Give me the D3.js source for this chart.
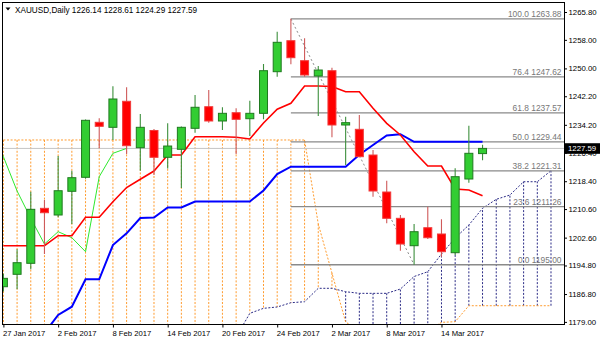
<!DOCTYPE html>
<html><head><meta charset="utf-8">
<script src="https://cdn.jsdelivr.net/npm/d3@7"></script>
<style>
body{margin:0;background:#fff;}
svg{display:block;font-family:"Liberation Sans",Arial,sans-serif;}
</style>
</head><body>
<svg id="chart" width="600" height="343"></svg>
<script>
// ---------- DATA ----------
const dates = ["27 Jan","30 Jan","31 Jan","1 Feb","2 Feb","3 Feb","6 Feb","7 Feb","8 Feb","9 Feb","10 Feb",
  "13 Feb","14 Feb","15 Feb","16 Feb","17 Feb","20 Feb","21 Feb","22 Feb","23 Feb","24 Feb",
  "27 Feb","28 Feb","1 Mar","2 Mar","3 Mar","6 Mar","7 Mar","8 Mar","9 Mar","10 Mar",
  "13 Mar","14 Mar","15 Mar","16 Mar","17 Mar"];
const openP  = [1188.85,1192.33,1195.41,1210.81,1208.94,1215.58,1219.50,1234.90,1233.50,1240.79,1227.79,
  1232.61,1225.10,1227.34,1233.22,1239.27,1235.27,1237.59,1235.91,1237.42,1249.08,
  1257.76,1252.16,1247.87,1249.36,1234.15,1232.94,1225.74,1215.38,1208.01,1200.34,
  1205.38,1203.62,1198.38,1219.02,1226.14];
const highP  = [1192.50,1199.33,1215.46,1213.14,1225.46,1221.35,1235.69,1236.02,1244.99,1244.71,1237.23,
  1233.00,1234.62,1233.70,1242.55,1243.95,1239.11,1238.83,1240.95,1251.23,1260.28,
  1263.88,1258.43,1250.67,1250.20,1236.47,1236.95,1227.14,1218.55,1208.94,1206.42,
  1211.26,1207.73,1222.02,1233.95,1228.61];
const lowP   = [1187.50,1188.12,1193.73,1198.01,1208.30,1206.42,1219.10,1227.62,1229.95,1226.02,1221.35,
  1220.14,1221.96,1216.50,1231.99,1234.79,1232.75,1226.02,1231.07,1235.74,1247.68,
  1251.15,1247.68,1236.67,1230.70,1222.94,1225.10,1214.06,1206.61,1198.94,1195.00,
  1202.21,1197.26,1197.73,1217.99,1224.29];
const closeP = [1191.20,1195.58,1210.53,1209.58,1215.74,1219.39,1235.46,1233.78,1241.43,1228.35,1233.50,
  1225.10,1228.26,1233.50,1239.11,1235.27,1237.42,1235.74,1237.42,1249.36,1257.31,
  1253.00,1248.15,1249.55,1234.15,1234.80,1225.27,1215.66,1208.01,1200.81,1204.26,
  1202.58,1198.66,1219.67,1226.22,1227.59];

// Ichimoku lines (values per bar index)
const tenkan = [1200.34,1200.34,1200.34,1200.34,1203.14,1203.14,1208.29,1208.29,1212.66,1216.64,1218.94,
  1221.26,1225.74,1225.74,1230.87,1230.87,1230.87,1230.73,1230.23,1234.71,1238.55,
  1240.23,1245.07,1245.07,1244.93,1243.48,1243.48,1238.83,1234.62,1231.35,1226.67,
  1222.66,1222.66,1216.22,1215.94,1214.34];
const kijun = [1175.90,1175.90,1175.90,1175.90,1180.93,1183.25,1190.93,1190.93,1200.53,1203.81,1208.10,
  1208.24,1211.04,1211.04,1212.72,1212.72,1212.72,1212.72,1212.72,1215.80,1220.42,
  1222.47,1222.47,1222.47,1222.47,1222.47,1225.83,1228.55,1231.21,1231.57,1229.44,
  1229.44,1229.44,1229.44,1229.44,1229.44];
// Chikou span, starting at bar index -1
const chikouStart = -1;
const chikou = [1234.80,1225.27,1215.66,1208.01,1200.81,1204.26,1202.58,1198.66,1219.67,1226.22,1227.59];
// Senkou spans, bar index 0..40 (null = not shown)
const spanA = [null,null,null,null,null,null,null,null,null,null,null,null,null,null,null,null,null,
  1174.76,1181.40,1182.80,1183.17,1184.37,1184.65,1188.41,1188.41,1187.45,1187.00,1187.00,1187.00,
  1188.21,1191.71,1193.05,1198.01,1202.49,1206.14,1210.81,1213.33,1214.54,1218.26,1218.26,1221.35];
const spanB = [1229.95,1229.95,1229.95,1229.95,1229.95,1229.95,1229.95,1229.95,1229.95,1229.95,1229.95,
  1229.95,1229.95,1229.95,1229.95,1229.95,1229.95,1229.95,1229.95,1229.95,1229.95,1229.95,1229.95,
  1206.42,1192.69,1178.97,1176.50,1176.40,1176.40,1176.40,1176.50,1176.60,1178.88,1179.05,
  1183.53,1183.53,1183.53,1183.53,1183.53,1183.53,1183.53];

// Fibonacci retracement
const fibLevels = ["100.0","76.4","61.8","50.0","38.2","23.6","0.0"];
const fibPrices = [1263.88,1247.62,1237.57,1229.44,1221.31,1211.26,1195.00];
const fibFrom = 21, fibTo = 30;

// Axis ticks
const yTicks = [1265.80,1258.00,1250.00,1242.20,1234.20,1226.40,1218.40,1210.60,1202.60,1194.80,1186.80,1179.00];
const xTickIdx = [0,4,8,12,16,20,24,28,32];
const xTickLabels = ["27 Jan 2017","2 Feb 2017","8 Feb 2017","14 Feb 2017","20 Feb 2017","24 Feb 2017","2 Mar 2017","8 Mar 2017","14 Mar 2017"];

const title = "XAUUSD,Daily";
const lastBid = 1227.59;

// ---------- LAYOUT ----------
const L = 2, R = 564, T = 2, B = 324.5;
const svg = d3.select("#chart");
const x = d3.scaleLinear().domain([-0.102, 40.95]).range([L, R]);
const y = d3.scaleLinear().domain([1178.27, 1268.60]).range([B, T]);

svg.append("defs").append("clipPath").attr("id","clip")
  .append("rect").attr("x",L).attr("y",T).attr("width",R-L).attr("height",B-T);
const g = svg.append("g").attr("clip-path","url(#clip)");

const ORANGE = "#ff9b2e", NAVY = "#2b2b86";

// Cloud verticals
const idx41 = d3.range(spanB.length);
g.append("g").selectAll("line").data(idx41).join("line")
  .attr("x1", i => x(i)).attr("x2", i => x(i))
  .attr("y1", i => y(spanB[i]))
  .attr("y2", i => spanA[i] == null ? B + 5 : y(spanA[i]))
  .attr("stroke", i => (spanA[i] == null || spanB[i] > spanA[i]) ? ORANGE : NAVY)
  .attr("stroke-width", 1).attr("stroke-dasharray", "2,1.6");

// Span lines
const lineGen = d3.line().defined(d => d[1] != null).x(d => x(d[0])).y(d => y(d[1]));
g.append("path").datum(spanB.map((v,i)=>[i,v])).attr("d", lineGen)
  .attr("fill","none").attr("stroke",ORANGE).attr("stroke-width",1).attr("stroke-dasharray","2,1.6");
g.append("path").datum(spanA.map((v,i)=>[i,v])).attr("d", lineGen)
  .attr("fill","none").attr("stroke",NAVY).attr("stroke-width",1).attr("stroke-dasharray","2,1.6");

// Bid line
g.append("line").attr("x1",L).attr("x2",R).attr("y1",y(lastBid)).attr("y2",y(lastBid))
  .attr("stroke","#c4c4c4").attr("stroke-width",1);

// Fibonacci lines
g.append("g").selectAll("line").data(fibPrices).join("line")
  .attr("x1", x(fibFrom)).attr("x2", R).attr("y1", d => y(d)).attr("y2", d => y(d))
  .attr("stroke","#8a8a8a").attr("stroke-width",1.3);
g.append("line").attr("x1", x(fibFrom)).attr("y1", y(highP[fibFrom]))
  .attr("x2", x(fibTo)).attr("y2", y(lowP[fibTo]))
  .attr("stroke","#8a8a8a").attr("stroke-width",1).attr("stroke-dasharray","2,2.5");

// Chikou
g.append("path").datum(chikou.map((v,k)=>[k+chikouStart,v])).attr("d", lineGen)
  .attr("fill","none").attr("stroke","#2ee82e").attr("stroke-width",1);
// Kijun
g.append("path").datum(kijun.map((v,i)=>[i,v])).attr("d", lineGen)
  .attr("fill","none").attr("stroke","#0000ff").attr("stroke-width",2);
// Tenkan
g.append("path").datum(tenkan.map((v,i)=>[i,v])).attr("d", lineGen)
  .attr("fill","none").attr("stroke","#ff0000").attr("stroke-width",1.6);

// Candles
const idx = d3.range(dates.length);
const up = i => closeP[i] >= openP[i];
g.append("g").selectAll("line").data(idx).join("line")
  .attr("x1", i => x(i)).attr("x2", i => x(i))
  .attr("y1", i => y(highP[i])).attr("y2", i => y(lowP[i]))
  .attr("stroke", i => up(i) ? "#3d8f3d" : "#cf5a5a").attr("stroke-width",1.1);
g.append("g").selectAll("rect").data(idx).join("rect")
  .attr("x", i => x(i) - 4).attr("width", 8)
  .attr("y", i => y(Math.max(openP[i], closeP[i])))
  .attr("height", i => Math.max(1, Math.abs(y(openP[i]) - y(closeP[i]))))
  .attr("fill", i => up(i) ? "#32cd32" : "#ff0000")
  .attr("stroke", i => up(i) ? "#1f7a1f" : "#f23a3a").attr("stroke-width",1);

// Fib labels
svg.append("g").selectAll("text").data(fibPrices).join("text")
  .attr("x", 561.5).attr("y", d => y(d) - 2)
  .attr("text-anchor","end").attr("font-size","8.4px").attr("fill","#777")
  .text((d,k) => fibLevels[k] + " " + d3.format(".2f")(d));

// Frame
svg.append("rect").attr("x",L).attr("y",T).attr("width",R-L).attr("height",B-T)
  .attr("fill","none").attr("stroke","#000").attr("stroke-width",1).attr("shape-rendering","crispEdges");

// Y axis
const yAxis = svg.append("g").attr("transform",`translate(${R},0)`)
  .call(d3.axisRight(y).tickValues(yTicks).tickFormat(d3.format(".2f")).tickSize(3).tickPadding(1.5));
yAxis.select(".domain").remove();
yAxis.selectAll("text").attr("font-size","7.8px").attr("font-family","Liberation Sans, Arial, sans-serif").attr("fill","#000");
yAxis.selectAll("line").attr("stroke","#000");

// X axis
const xAxis = svg.append("g").attr("transform",`translate(0,${B})`)
  .call(d3.axisBottom(x).tickValues(xTickIdx).tickFormat((d,k)=>xTickLabels[k]).tickSize(3).tickPadding(3));
xAxis.select(".domain").remove();
xAxis.selectAll("text").attr("text-anchor","start").attr("dx","-1")
  .attr("font-size","7.7px").attr("font-family","Liberation Sans, Arial, sans-serif").attr("fill","#000");
xAxis.selectAll("line").attr("stroke","#000");

// Current price box
svg.append("rect").attr("x",565).attr("y",y(lastBid)-5.2).attr("width",35).attr("height",10.6).attr("fill","#000");
svg.append("text").attr("x",568).attr("y",y(lastBid)).attr("dy","0.35em")
  .attr("font-size","7.8px").attr("fill","#fff").text(d3.format(".2f")(lastBid));

// Title
svg.append("path").attr("d","M5.5,7.5 L10.5,7.5 L8,10.5 Z").attr("fill","#000");
svg.append("text").attr("x",15).attr("y",12.5).attr("font-size","8.2px").attr("fill","#000")
  .text(title + "  " + [openP[35],highP[35],lowP[35],closeP[35]].map(d3.format(".2f")).join(" "));
</script>
</body></html>
